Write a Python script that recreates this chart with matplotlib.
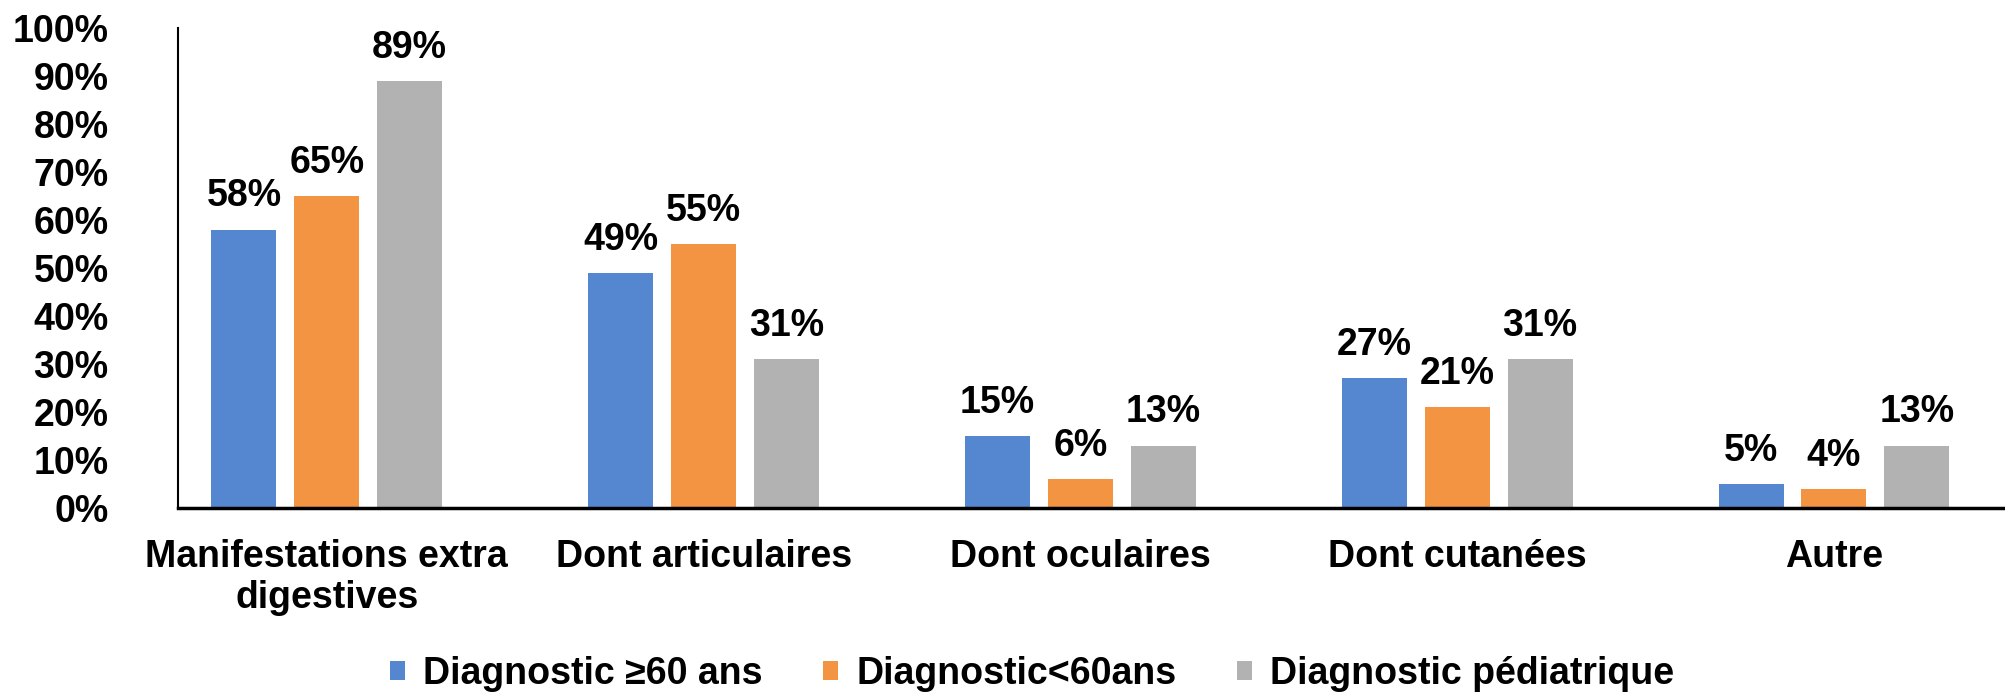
import numpy as np
import matplotlib
matplotlib.use("Agg")
import matplotlib.pyplot as plt
from matplotlib.ticker import PercentFormatter

categories = ["Manifestations extra\ndigestives", "Dont articulaires",
              "Dont oculaires", "Dont cutanées", "Autre"]
series_names = ["Diagnostic ≥60 ans", "Diagnostic<60ans", "Diagnostic pédiatrique"]
older = [58, 49, 15, 27, 5]
younger = [65, 55, 6, 21, 4]
pediatric = [89, 31, 13, 31, 13]
colors = ["#5587D0", "#F29441", "#B2B2B2"]

plt.rcParams['font.family'] = ['Liberation Sans', 'DejaVu Sans']
plt.rcParams['font.weight'] = 'bold'

fig = plt.figure(figsize=(20.05, 6.95), dpi=100)
ax = fig.add_axes([178 / 2005, 1 - 508 / 695, 1 - 178 / 2005, 480 / 695])

x = np.arange(len(categories))
width = 0.1725
pitch = 0.22
bars = []
for i, (vals, name) in enumerate(zip([older, younger, pediatric], series_names)):
    b = ax.bar(x + (i - 1) * pitch, vals, width, color=colors[i], label=name, zorder=2)
    ax.bar_label(b, labels=["%d%%" % v for v in vals], padding=11,
                 fontsize=27, fontweight='bold')
    bars.append(b)

ax.set_xlim(-0.395, 4.454)
ax.set_ylim(0, 100)
ax.set_yticks(np.arange(0, 101, 10))
ax.yaxis.set_major_formatter(PercentFormatter(decimals=0))
ax.set_xticks(x)
ax.set_xticklabels(categories, fontsize=27, fontweight='bold')
ax.tick_params(axis='y', length=0, pad=50, labelsize=27)
ax.tick_params(axis='x', length=0, pad=22)

for s in ['top', 'right']:
    ax.spines[s].set_visible(False)
ax.spines['left'].set_linewidth(1.5)
ax.spines['bottom'].set_linewidth(2.5)

fig.legend(handles=bars, labels=series_names, loc='center',
           bbox_to_anchor=(1032 / 2005, 1 - 674 / 695), ncol=3, frameon=False,
           prop={'size': 27, 'weight': 'bold'}, handlelength=0.4,
           handleheight=0.4, handletextpad=0.5, columnspacing=1.6)

fig.savefig("out.png", dpi=100)
